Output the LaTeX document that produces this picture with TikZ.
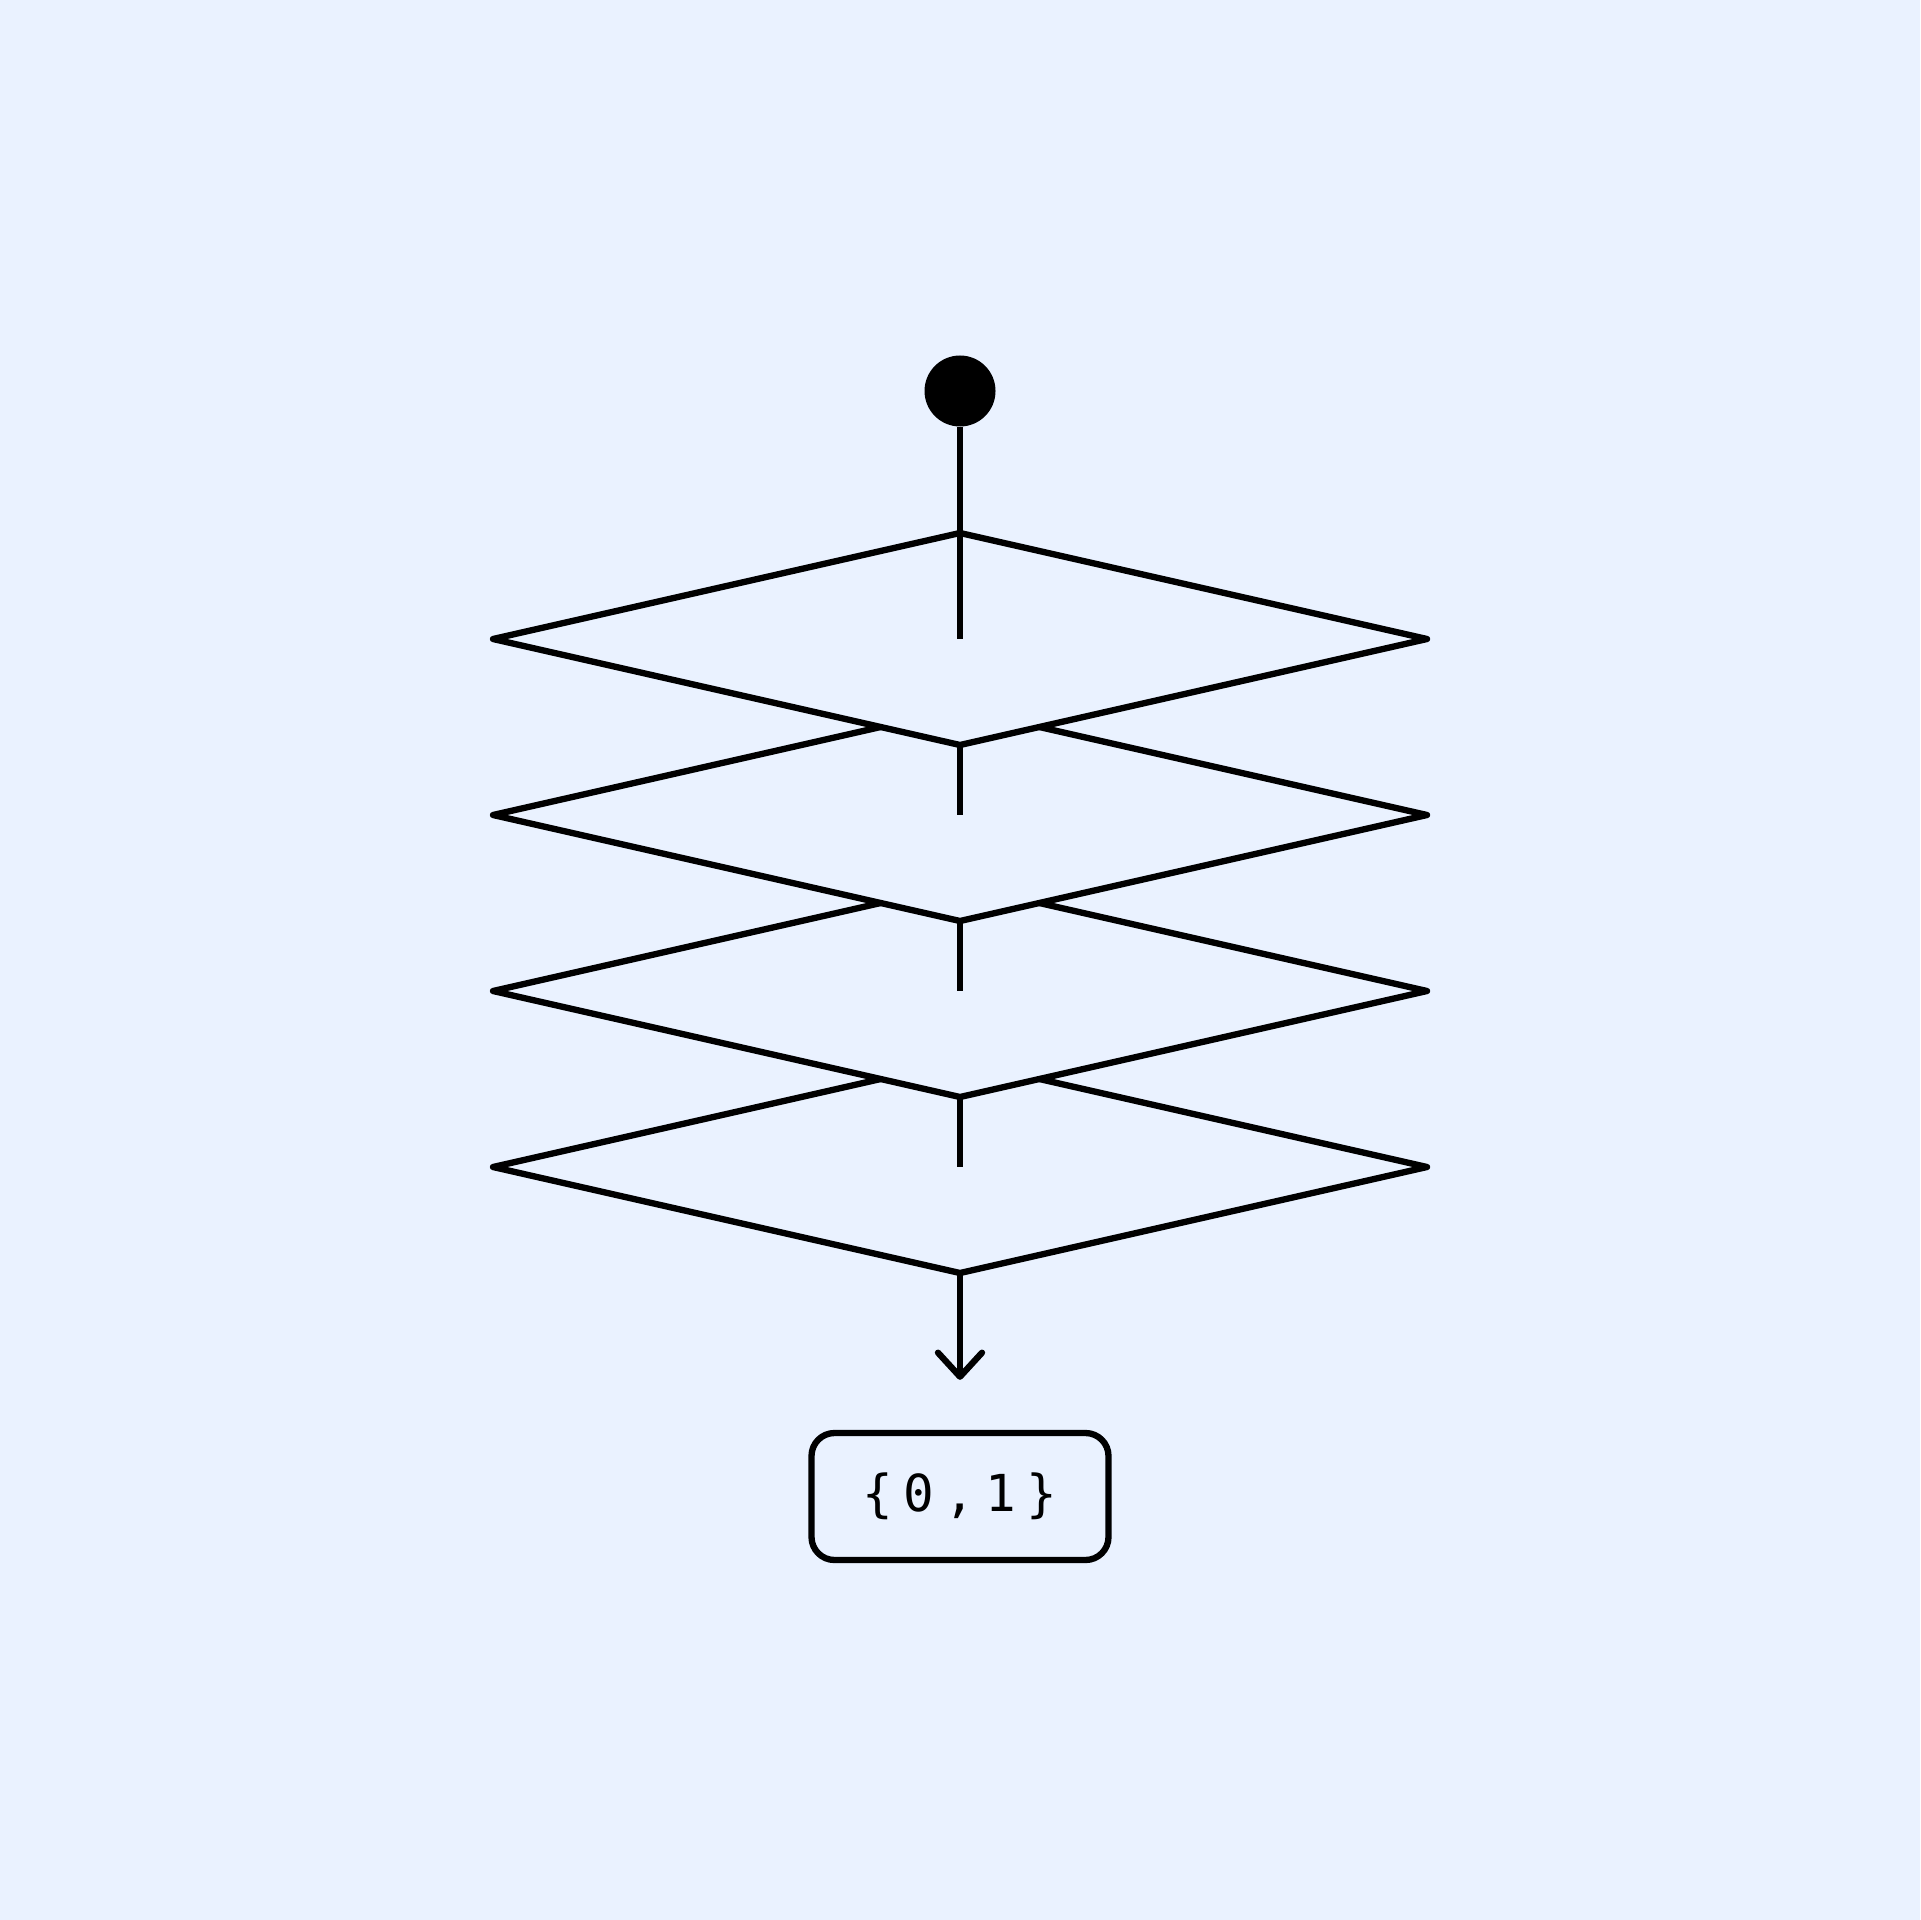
\documentclass[tikz,border=0pt]{standalone}
\usepackage{fontspec}
\usepackage{tikz}
\usetikzlibrary{arrows.meta, shapes.geometric}
\newfontfamily\codefont[LetterSpace=20]{DejaVu Sans Mono}
\definecolor{paper}{RGB}{234,242,255}

\begin{document}
\begin{tikzpicture}[
    line width=1.8pt, line join=round,
    layer/.style={diamond, draw, fill=paper, inner sep=0pt, outer sep=0pt, minimum width=9.34cm, minimum height=2.12cm},
]
    \fill[paper] (0, 0) rectangle (19.2, -19.2);
    \useasboundingbox (0, 0) rectangle (19.2, -19.2);

    \node[circle, inner sep=0pt, outer sep=0pt, minimum size=0.71cm, fill] (start) at (9.6, -3.91) {};
    \node[layer] (d4) at (9.6, -11.67) {};
    \node[layer] (d3) at (9.6, -9.91) {};
    \node[layer] (d2) at (9.6, -8.15) {};
    \node[layer] (d1) at (9.6, -6.39) {};
    \node[draw, rounded corners=0.23cm, minimum width=2.97cm, minimum height=1.27cm, font=\codefont\fontsize{14.5pt}{16pt}\selectfont] (result) at (9.6, -14.965) {\{0,1\}};

    \draw (start) -- (d1.center);
    \draw (d1.south) -- (d2.center);
    \draw (d2.south) -- (d3.center);
    \draw (d3.south) -- (d4.center);
    \draw [-{Straight Barb[length=0.24cm, width=0.44cm, line cap=round, line join=round]}, shorten >=0.5cm] (d4.south) -- (result.north);

\end{tikzpicture}
\end{document}
